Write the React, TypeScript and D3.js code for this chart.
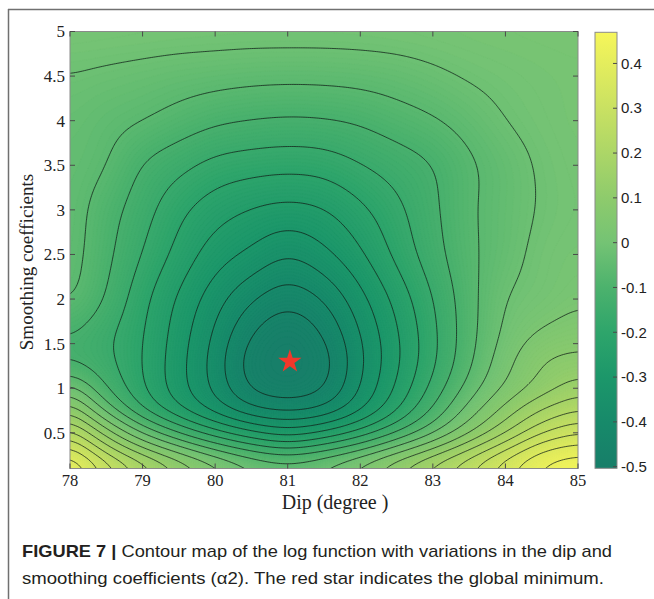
import React, { useMemo } from 'react';
import * as d3 from 'd3';

// ---- data (log function on a dip x smoothing grid) ----
const dipGrid = [78, 78.5, 79, 79.5, 80, 80.5, 81, 81.5, 82, 82.5, 83, 83.5, 84, 84.5, 85];
const smoothGrid = [0.1, 0.3, 0.5, 0.75, 1.0, 1.3, 1.6, 2.0, 2.5, 3.0, 3.5, 4.0, 4.5, 5.0];
const logRows = [
  [0.455, 0.334, 0.237, 0.153, 0.081, 0.02, 0.0, 0.022, 0.081, 0.15, 0.22, 0.291, 0.373, 0.44, 0.4695],
  [0.358, 0.207, 0.1, 0.016, -0.058, -0.114, -0.147, -0.114, -0.062, 0.016, 0.097, 0.188, 0.285, 0.38, 0.41],
  [0.256, 0.113, -0.017, -0.114, -0.19, -0.249, -0.285, -0.249, -0.19, -0.114, -0.027, 0.071, 0.168, 0.265, 0.32],
  [0.129, -0.033, -0.163, -0.252, -0.33, -0.394, -0.413, -0.394, -0.317, -0.217, -0.107, 0.005, 0.102, 0.185, 0.23],
  [0.01, -0.114, -0.205, -0.289, -0.371, -0.462, -0.492, -0.458, -0.355, -0.252, -0.148, -0.046, 0.039, 0.1, 0.155],
  [-0.12, -0.149, -0.212, -0.291, -0.379, -0.48, -0.505, -0.476, -0.368, -0.27, -0.173, -0.075, 0.016, 0.081, 0.097],
  [-0.11, -0.152, -0.208, -0.284, -0.366, -0.455, -0.497, -0.452, -0.358, -0.266, -0.175, -0.083, -0.005, 0.04, 0.06],
  [-0.055, -0.118, -0.196, -0.267, -0.337, -0.4, -0.437, -0.402, -0.325, -0.244, -0.163, -0.083, -0.017, 0.004, 0.026],
  [-0.042, -0.101, -0.165, -0.228, -0.285, -0.32, -0.355, -0.322, -0.268, -0.199, -0.135, -0.076, -0.037, -0.002, 0.012],
  [-0.04, -0.091, -0.142, -0.198, -0.238, -0.262, -0.275, -0.262, -0.222, -0.175, -0.124, -0.073, -0.04, -0.012, 0.005],
  [-0.04, -0.063, -0.116, -0.148, -0.178, -0.19, -0.196, -0.19, -0.165, -0.14, -0.114, -0.073, -0.04, -0.01, 0.008],
  [-0.033, -0.05, -0.064, -0.085, -0.105, -0.115, -0.12, -0.117, -0.107, -0.088, -0.07, -0.045, -0.017, 0.0, 0.012],
  [-0.018, -0.025, -0.032, -0.04, -0.046, -0.051, -0.053, -0.052, -0.048, -0.04, -0.027, -0.012, -0.002, 0.006, 0.012],
  [0.012, 0.01, 0.008, 0.006, 0.005, 0.004, 0.004, 0.004, 0.005, 0.007, 0.01, 0.013, 0.016, 0.018, 0.02],
];
const contourLevels = [-0.455, -0.406, -0.358, -0.309, -0.26, -0.211, -0.163, -0.114, -0.065, -0.017,
  0.032, 0.081, 0.129, 0.178, 0.227, 0.275, 0.324, 0.373, 0.421];
const xTicks = [78, 79, 80, 81, 82, 83, 84, 85];
const yTicks = [0.5, 1, 1.5, 2, 2.5, 3, 3.5, 4, 4.5, 5];
const colorTicks = [-0.5, -0.4, -0.3, -0.2, -0.1, 0, 0.1, 0.2, 0.3, 0.4];
const colorRange = [-0.5036, 0.4695];
const minimumDip = 81.03;
const minimumSmooth = 1.3;

// colormap (styling)
const cmapValues = [-0.5036, -0.4, -0.3, -0.2, -0.1, 0.0, 0.1, 0.2, 0.3, 0.4, 0.4695];
const cmapColors = ['#177e69', '#178a6a', '#1c976a', '#2ea56b', '#4cb26d', '#74c374', '#8ecb6c', '#acd667', '#c9e162', '#e4ed5d', '#f6f65a'];
const colorScale = d3.scaleLinear<string>().domain(cmapValues).range(cmapColors).interpolate(d3.interpolateRgb).clamp(true);

function hermite(xs: number[], ys: number[], xv: number): number {
  const n = xs.length;
  let i = d3.bisectRight(xs, xv) - 1;
  i = Math.max(0, Math.min(n - 2, i));
  const x0 = xs[i], x1 = xs[i + 1], h = x1 - x0;
  const t = (xv - x0) / h;
  const slope = (k: number) => {
    if (k === 0) return (ys[1] - ys[0]) / (xs[1] - xs[0]);
    if (k === n - 1) return (ys[n - 1] - ys[n - 2]) / (xs[n - 1] - xs[n - 2]);
    return (ys[k + 1] - ys[k - 1]) / (xs[k + 1] - xs[k - 1]);
  };
  const m0 = slope(i) * h, m1 = slope(i + 1) * h;
  const t2 = t * t, t3 = t2 * t;
  return (2 * t3 - 3 * t2 + 1) * ys[i] + (t3 - 2 * t2 + t) * m0 + (-2 * t3 + 3 * t2) * ys[i + 1] + (t3 - t2) * m1;
}

// separable box blur (several passes) used only to smooth the rendered surface
function smoothField(a: Float64Array, nx: number, ny: number, r: number, passes: number) {
  const tmp = new Float64Array(nx * ny);
  const norm = 1 / (2 * r + 1);
  for (let p = 0; p < passes; p++) {
    for (let j = 0; j < ny; j++) {
      for (let i = 0; i < nx; i++) {
        let s = 0;
        for (let k = -r; k <= r; k++) s += a[j * nx + Math.min(nx - 1, Math.max(0, i + k))];
        tmp[j * nx + i] = s * norm;
      }
    }
    for (let i = 0; i < nx; i++) {
      for (let j = 0; j < ny; j++) {
        let s = 0;
        for (let k = -r; k <= r; k++) s += tmp[Math.min(ny - 1, Math.max(0, j + k)) * nx + i];
        a[j * nx + i] = s * norm;
      }
    }
  }
}

const W = 654, H = 599;
const plot = { left: 70, right: 578, top: 31.5, bottom: 468.5 };
const cbar = { left: 595, right: 617, top: 32.3, bottom: 468.3 };

export default function App() {
  const x = d3.scaleLinear().domain([78, 85]).range([plot.left, plot.right]);
  const y = d3.scaleLinear().domain([0.1, 5]).range([plot.bottom, plot.top]);
  const cy = d3.scaleLinear().domain(colorRange).range([cbar.bottom, cbar.top]);

  const { fills, lines } = useMemo(() => {
    const nx = 281, ny = 246;
    const xsFine = d3.range(nx).map(i => 78 + (i * 7) / (nx - 1));
    const ysFine = d3.range(ny).map(j => 5 - (j * 4.9) / (ny - 1));
    const rowsFine = logRows.map(row => xsFine.map(xv => hermite(dipGrid, row, xv)));
    const values = new Float64Array(nx * ny);
    for (let i = 0; i < nx; i++) {
      const col = rowsFine.map(r => r[i]);
      for (let j = 0; j < ny; j++) values[j * nx + i] = hermite(smoothGrid, col, ysFine[j]);
    }
    smoothField(values, nx, ny, 6, 3);
    const vals = Array.from(values);
    const sx = (plot.right - plot.left) / (nx - 1);
    const sy = (plot.bottom - plot.top) / (ny - 1);
    const proj = d3.geoTransform({
      point: function (px: number, py: number) {
        (this as any).stream.point(plot.left + (px - 0.5) * sx, plot.top + (py - 0.5) * sy);
      },
    });
    const path = d3.geoPath(proj);
    const step = 0.006;
    const fillThresholds = d3.range(-0.52, 0.475, step);
    const fillsOut = d3.contours().size([nx, ny]).thresholds(fillThresholds)(vals)
      .map(c => ({ d: path(c as any), color: colorScale(c.value + step / 2) }))
      .filter(f => f.d);
    const linesOut = d3.contours().size([nx, ny]).thresholds(contourLevels)(vals)
      .map(c => path(c as any))
      .filter(Boolean) as string[];
    return { fills: fillsOut, lines: linesOut };
  }, []);

  const star = d3.symbol().type(d3.symbolStar).size(170)() as string;
  const gradStops = cmapValues.map((v, i) => ({
    offset: (v - colorRange[0]) / (colorRange[1] - colorRange[0]),
    color: cmapColors[i],
  }));

  const serif = "'Liberation Serif', 'Times New Roman', serif";
  const sans = "'Liberation Sans', Arial, sans-serif";
  const tickColor = '#4a4a4a';

  return (
    <svg width={W} height={H} viewBox={`0 0 ${W} ${H}`} style={{ position: 'absolute', left: 0, top: 0, background: '#fff' }}>
      <defs>
        <clipPath id="plotClip">
          <rect x={plot.left} y={plot.top} width={plot.right - plot.left} height={plot.bottom - plot.top} />
        </clipPath>
        <linearGradient id="cbGrad" x1="0" y1="1" x2="0" y2="0">
          {gradStops.map((s, i) => (
            <stop key={i} offset={s.offset} stopColor={s.color} />
          ))}
        </linearGradient>
      </defs>
      <rect x={0} y={0} width={W} height={H} fill="#fff" />
      {/* figure frame */}
      <line x1={8} y1={9.5} x2={W} y2={9.5} stroke="#707070" strokeWidth={1.5} />
      <line x1={8.5} y1={9} x2={8.5} y2={H} stroke="#707070" strokeWidth={1.5} />

      <g clipPath="url(#plotClip)">
        {fills.map((f, i) => (
          <path key={i} d={f.d as string} fill={f.color} stroke={f.color} strokeWidth={0.3} />
        ))}
        {lines.map((d, i) => (
          <path key={i} d={d} fill="none" stroke="#122019" strokeWidth={0.85} strokeOpacity={0.9} />
        ))}
        <path d={star} transform={`translate(${x(minimumDip)},${y(minimumSmooth)})`} fill="#f2382a" />
      </g>

      {/* axes box */}
      <rect x={plot.left} y={plot.top} width={plot.right - plot.left} height={plot.bottom - plot.top} fill="none" stroke="#8a8a8a" strokeWidth={1} />
      {xTicks.map(t => (
        <g key={'xt' + t}>
          <line x1={x(t)} x2={x(t)} y1={plot.bottom} y2={plot.bottom - 5} stroke={tickColor} strokeWidth={1} />
          <line x1={x(t)} x2={x(t)} y1={plot.top} y2={plot.top + 5} stroke={tickColor} strokeWidth={1} />
          <text x={x(t)} y={plot.bottom + 17} textAnchor="middle" fontFamily={serif} fontSize={16.5} fill="#222">{t}</text>
        </g>
      ))}
      {yTicks.map(t => (
        <g key={'yt' + t}>
          <line x1={plot.left} x2={plot.left + 5} y1={y(t)} y2={y(t)} stroke={tickColor} strokeWidth={1} />
          <line x1={plot.right} x2={plot.right - 5} y1={y(t)} y2={y(t)} stroke={tickColor} strokeWidth={1} />
          <text x={plot.left - 5} y={y(t)} dy="0.35em" textAnchor="end" fontFamily={serif} fontSize={17} fill="#222">{t}</text>
        </g>
      ))}
      <text x={(plot.left + plot.right) / 2 + 11} y={509} textAnchor="middle" fontFamily={serif} fontSize={20} fill="#222">Dip (degree )</text>
      <text transform={`translate(33,262) rotate(-90)`} textAnchor="middle" fontFamily={serif} fontSize={19} fill="#222">Smoothing coefficients</text>

      {/* colorbar */}
      <rect x={cbar.left} y={cbar.top} width={cbar.right - cbar.left} height={cbar.bottom - cbar.top} fill="url(#cbGrad)" stroke="#8a8a8a" strokeWidth={1} />
      {colorTicks.map(t => (
        <g key={'ct' + t}>
          <line x1={cbar.right} x2={cbar.right - 4} y1={cy(t)} y2={cy(t)} stroke={tickColor} strokeWidth={1} />
          <text x={cbar.right + 4} y={cy(t)} dy="0.35em" fontFamily={sans} fontSize={15} fill="#222">{String(t)}</text>
        </g>
      ))}

      {/* caption */}
      <text x={22} y={557} fontFamily={sans} fontSize={17} fill="#231f20" textLength={590} lengthAdjust="spacingAndGlyphs">
        <tspan fontWeight="bold">FIGURE 7 |</tspan>
        <tspan> Contour map of the log function with variations in the dip and</tspan>
      </text>
      <text x={22} y={584} fontFamily={sans} fontSize={17} fill="#231f20" textLength={582} lengthAdjust="spacingAndGlyphs">
        smoothing coefficients (α2). The red star indicates the global minimum.
      </text>
    </svg>
  );
}
